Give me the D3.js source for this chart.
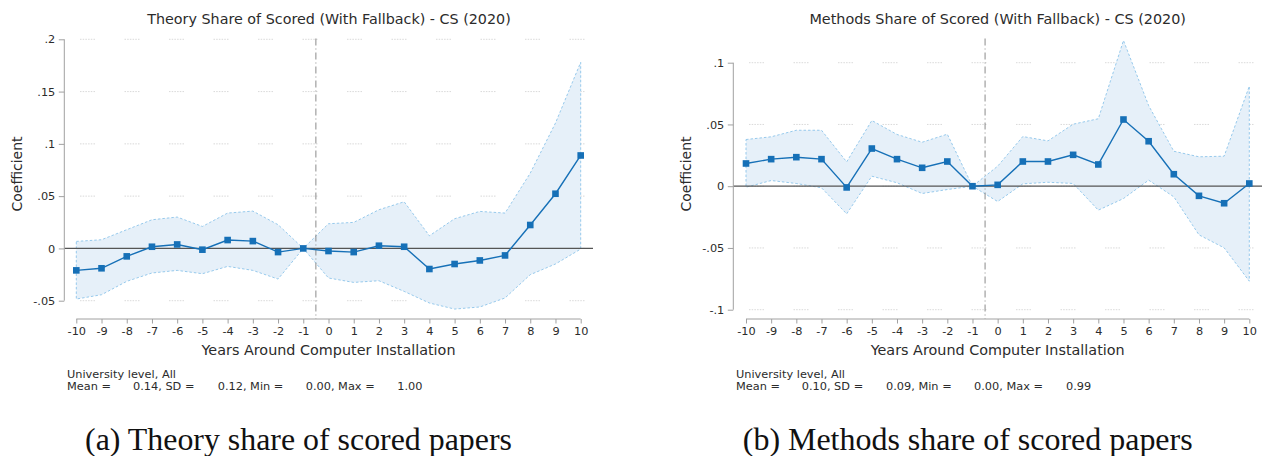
<!DOCTYPE html>
<html>
<head>
<meta charset="utf-8">
<script src="https://cdn.jsdelivr.net/npm/d3@7"></script>
<style>
    body { margin: 0; background: #fff; }
    svg { display: block; }
    text { font-family: "DejaVu Sans", sans-serif; fill: #2b2b2b; }
    .caption { font-family: "Liberation Serif", serif; fill: #111; }
</style>
</head>
<body>
<svg id="chart" width="1262" height="456"></svg>
<script>
// 横轴：安装前后年份
const years = [-10, -9, -8, -7, -6, -5, -4, -3, -2, -1, 0, 1, 2, 3, 4, 5, 6, 7, 8, 9, 10]

// (a) Theory share
const theoryCoef = [-0.021, -0.019, -0.0076, 0.0016, 0.0038, -0.0012, 0.008, 0.007, -0.0035, 0,
    -0.0025, -0.0035, 0.0026, 0.0016, -0.0197, -0.0149, -0.0115, -0.0067, 0.0224, 0.0523, 0.0889]
const theoryHi = [0.0067, 0.0083, 0.0179, 0.0274, 0.030, 0.021, 0.0338, 0.0357, 0.0227, 0,
    0.0236, 0.0249, 0.037, 0.0446, 0.0121, 0.0284, 0.0354, 0.0338, 0.072, 0.1199, 0.178]
const theoryLo = [-0.0484, -0.0443, -0.0315, -0.0235, -0.021, -0.0242, -0.0172, -0.021, -0.0293, 0,
    -0.0283, -0.0325, -0.0309, -0.0411, -0.0522, -0.058, -0.056, -0.0474, -0.0251, -0.0149, -0.0006]
const theoryTicks = [-0.05, 0, 0.05, 0.1, 0.15, 0.2]
const theoryTickLabels = ['-.05', '0', '.05', '.1', '.15', '.2']
const theoryStats = ['0.14', '0.12', '0.00', '1.00']

// (b) Methods share
const methodsCoef = [0.0184, 0.0219, 0.0235, 0.0219, -0.001, 0.0305, 0.0219, 0.0149, 0.020, 0,
    0.0011, 0.020, 0.020, 0.0254, 0.0176, 0.054, 0.0364, 0.0097, -0.0078, -0.0138, 0.0022]
const methodsHi = [0.0378, 0.040, 0.0453, 0.0453, 0.0197, 0.0532, 0.0419, 0.0356, 0.0421, 0,
    0.0162, 0.0402, 0.0367, 0.0502, 0.0546, 0.118, 0.0653, 0.0283, 0.0238, 0.0243, 0.081]
const methodsLo = [-0.0008, 0.0046, 0.0022, -0.0013, -0.0224, 0.0081, 0.0028, -0.0059, -0.0027, 0,
    -0.0124, 0.0019, 0.0032, 0.0022, -0.0194, -0.010, 0.0049, -0.0086, -0.0394, -0.0499, -0.0769]
const methodsTicks = [-0.1, -0.05, 0, 0.05, 0.1]
const methodsTickLabels = ['-.1', '-.05', '0', '.05', '.1']
const methodsStats = ['0.10', '0.09', '0.00', '0.99']

const statNames = ['Mean =', 'SD =', 'Min =', 'Max =']

const blue = '#1670b7'
const svg = d3.select('#chart')

const panels = [
    {
        title: 'Theory Share of Scored (With Fallback) - CS (2020)',
        caption: '(a) Theory share of scored papers',
        coef: theoryCoef, hi: theoryHi, lo: theoryLo,
        ticks: theoryTicks, tickLabels: theoryTickLabels, stats: theoryStats,
        yDomain: [-0.05, 0.2], yRange: [300.7, 39.3],
        xRange: [76.3, 580.7], plotX: [64.3, 593],
        titleX: 329, titleW: 363.7, coefX: 21.5, noteX: [67, 133, 217.7, 305.7, 397.3],
        captionX: 298.5, captionW: 427,
    },
    {
        title: 'Methods Share of Scored (With Fallback) - CS (2020)',
        caption: '(b) Methods share of scored papers',
        coef: methodsCoef, hi: methodsHi, lo: methodsLo,
        ticks: methodsTicks, tickLabels: methodsTickLabels, stats: methodsStats,
        yDomain: [-0.1, 0.1], yRange: [309.7, 62.7],
        xRange: [746, 1249.3], plotX: [733.3, 1262],
        titleX: 997.7, titleW: 376.7, coefX: 691, noteX: [736, 801.7, 886, 974, 1066],
        captionX: 967.7, captionW: 450,
    },
]

const axisY = 319

// 按目标宽度调整字号
function fitText(sel, target) {
    const size = +sel.attr('font-size')
    const w = sel.node().getComputedTextLength()
    sel.attr('font-size', (size * target / w).toFixed(2))
    return sel
}

panels.forEach((p) => {
    const g = svg.append('g')
    const x = d3.scaleLinear().domain([-10, 10]).range(p.xRange)
    const y = d3.scaleLinear().domain(p.yDomain).range(p.yRange)
    const idx = years.map((d, i) => i)

    // 网格线
    g.append('g').selectAll('line')
        .data(p.ticks)
        .join('line')
        .attr('x1', p.plotX[0]).attr('x2', p.plotX[1])
        .attr('y1', d => y(d)).attr('y2', d => y(d))
        .attr('stroke', '#cfcfcf')
        .attr('stroke-width', 0.8)
        .attr('stroke-dasharray', '1.5,1.2,1.5,1.2,1.5,1.2,1.5,1.2,1.5,1.2,1.5,29.5')
        .attr('stroke-dashoffset', 28.8)

    // 置信区间
    const area = d3.area()
        .x(i => x(years[i]))
        .y0(i => y(p.lo[i]))
        .y1(i => y(p.hi[i]))
    g.append('path')
        .attr('d', area(idx) + 'Z')
        .attr('fill', '#e6f0f9')
        .attr('stroke', '#8cc4ea')
        .attr('stroke-width', 0.9)
        .attr('stroke-dasharray', '2.5,2')

    // 零线
    g.append('line')
        .attr('x1', p.plotX[0]).attr('x2', p.plotX[1])
        .attr('y1', y(0)).attr('y2', y(0))
        .attr('stroke', '#555')
        .attr('stroke-width', 1.2)

    // 安装年份分界
    g.append('line')
        .attr('x1', x(-0.5)).attr('x2', x(-0.5))
        .attr('y1', 38.5).attr('y2', axisY)
        .attr('stroke', '#8a8a8a')
        .attr('stroke-width', 1)
        .attr('stroke-dasharray', '7,3,1,3')

    // 系数线和点
    g.append('path')
        .attr('d', d3.line().x(i => x(years[i])).y(i => y(p.coef[i]))(idx))
        .attr('fill', 'none')
        .attr('stroke', blue)
        .attr('stroke-width', 1.4)
    g.append('g').selectAll('rect')
        .data(idx)
        .join('rect')
        .attr('x', i => x(years[i]) - 3.3)
        .attr('y', i => y(p.coef[i]) - 3.3)
        .attr('width', 6.6).attr('height', 6.6)
        .attr('fill', blue)

    // y轴
    const yAxis = g.append('g')
        .attr('transform', `translate(${p.plotX[0]},0)`)
        .call(d3.axisLeft(y).tickValues(p.ticks).tickFormat((d, i) => p.tickLabels[i]).tickSize(5.5).tickPadding(3.5))
    yAxis.select('.domain').attr('stroke', '#a0a0a0').attr('d', `M0,${y(p.yDomain[0])}V${y(p.yDomain[1])}`)
    yAxis.selectAll('.tick line').attr('stroke', '#a0a0a0')
    yAxis.selectAll('.tick text').attr('font-size', 11.3).attr('font-family', null).attr('fill', '#2b2b2b')

    // x轴
    const xAxis = g.append('g')
        .attr('transform', `translate(0,${axisY})`)
        .call(d3.axisBottom(x).tickValues(years).tickFormat(d3.format('d')).tickSize(4.5).tickPadding(3))
    xAxis.select('.domain').attr('stroke', '#a0a0a0').attr('d', `M${p.xRange[0]},0H${p.xRange[1]}`)
    xAxis.selectAll('.tick line').attr('stroke', '#a0a0a0')
    xAxis.selectAll('.tick text').attr('font-size', 11.3).attr('font-family', null).attr('fill', '#2b2b2b')
        .text(d => (d < 0 ? '-' + Math.abs(d) : d))

    // 标题
    fitText(g.append('text')
        .attr('x', p.titleX).attr('y', 23.5)
        .attr('text-anchor', 'middle')
        .attr('font-size', 13)
        .text(p.title), p.titleW)

    fitText(g.append('text')
        .attr('x', (p.xRange[0] + p.xRange[1]) / 2).attr('y', 355)
        .attr('text-anchor', 'middle')
        .attr('font-size', 13)
        .text('Years Around Computer Installation'), 254)

    fitText(g.append('text')
        .attr('transform', `translate(${p.coefX},174) rotate(-90)`)
        .attr('text-anchor', 'middle')
        .attr('font-size', 13)
        .text('Coefficient'), 75)

    // 注释
    const note = fitText(g.append('text')
        .attr('x', p.noteX[0]).attr('y', 377.5)
        .attr('font-size', 10)
        .text('University level, All'), 109)
    const segs = [statNames[0]].concat(p.stats.map((s, i) => (i < 3 ? `${s}, ${statNames[i + 1]}` : s)))
    g.append('g').selectAll('text')
        .data(segs)
        .join('text')
        .attr('x', (d, i) => p.noteX[i]).attr('y', 390)
        .attr('font-size', note.attr('font-size'))
        .text(d => d)

    // 子图说明
    fitText(g.append('text')
        .attr('class', 'caption')
        .attr('x', p.captionX).attr('y', 449.5)
        .attr('text-anchor', 'middle')
        .attr('font-size', 26)
        .text(p.caption), p.captionW)
})
</script>
</body>
</html>
